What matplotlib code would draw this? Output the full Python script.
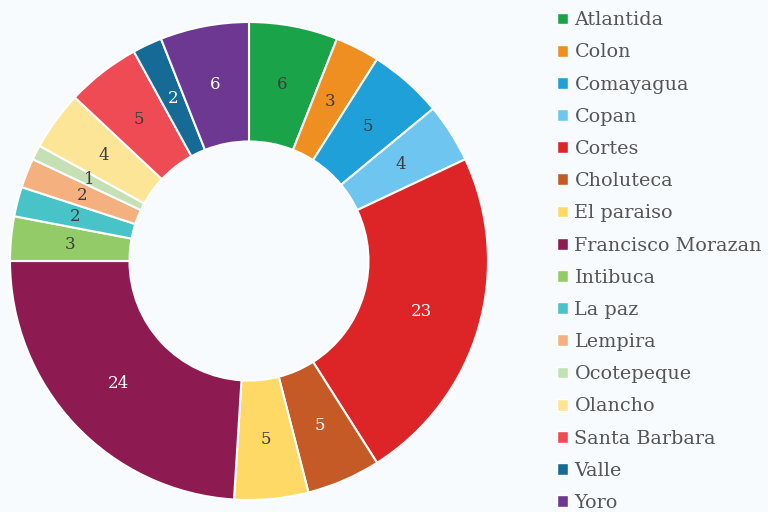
import matplotlib.pyplot as plt
from matplotlib.patches import Patch

departments = ["Atlantida", "Colon", "Comayagua", "Copan", "Cortes", "Choluteca",
               "El paraiso", "Francisco Morazan", "Intibuca", "La paz", "Lempira",
               "Ocotepeque", "Olancho", "Santa Barbara", "Valle", "Yoro"]
counts = [6, 3, 5, 4, 23, 5, 5, 24, 3, 2, 2, 1, 4, 5, 2, 6]
colors = ["#1ba34a", "#ef8f22", "#20a0d8", "#6ec6f0", "#dd2426", "#c65a26",
          "#ffd966", "#8e1a52", "#92cb67", "#48c3c8", "#f5b080", "#c5e0b4",
          "#fce597", "#ef4b54", "#166a96", "#6d3892"]
label_colors = ["#3d3d3d", "#3d3d3d", "#3d3d3d", "#3d3d3d", "white", "white",
                "#3d3d3d", "white", "#3d3d3d", "#3d3d3d", "#3d3d3d", "#3d3d3d",
                "#3d3d3d", "#3d3d3d", "white", "white"]

bg = "#f7fbfe"
plt.rcParams['font.family'] = ['DejaVu Serif']

fig = plt.figure(figsize=(7.68, 5.12), dpi=100, facecolor=bg)
ax = fig.add_axes([10 / 768, 12 / 512, 478 / 768, 478 / 512])
ax.set_facecolor(bg)

wedges, texts = ax.pie(counts, colors=colors, startangle=90, counterclock=False,
                       labels=[str(c) for c in counts], labeldistance=0.75,
                       wedgeprops=dict(width=0.5, edgecolor="white", linewidth=1.5),
                       textprops=dict(fontsize=12))
for t, c in zip(texts, label_colors):
    t.set_color(c)
    t.set_horizontalalignment("center")
    t.set_verticalalignment("center")
ax.set_xlim(-1, 1)
ax.set_ylim(-1, 1)

handles = [Patch(facecolor=c, edgecolor="white") for c in colors]
fig.legend(handles, departments, loc="upper left", bbox_to_anchor=(540 / 768, 1.0 + 6 / 512),
           frameon=False, fontsize=13.8, handlelength=0.57, handleheight=0.57,
           handletextpad=0.33, labelspacing=0.74, labelcolor="#555555")

fig.savefig("out.png", dpi=100, facecolor=bg)
